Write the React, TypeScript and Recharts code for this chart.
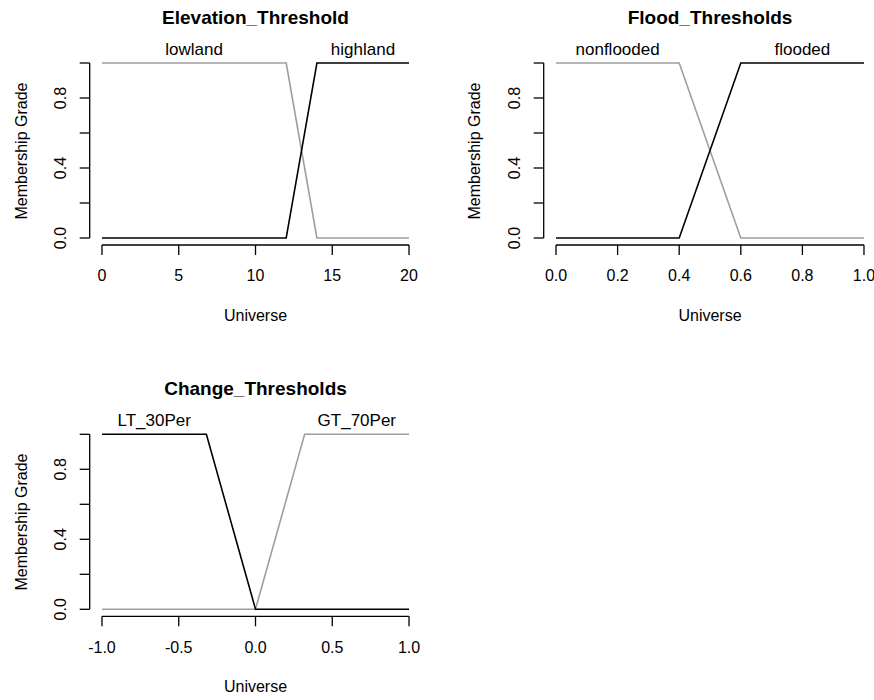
import React from 'react';
import { LineChart, Line, XAxis, YAxis, ReferenceLine, ReferenceDot } from 'recharts';

const FONT = '"Liberation Sans", Arial, Helvetica, sans-serif';
const BLACK = '#000000';
const GREY = '#9e9e9e';

// Elevation_Threshold
const elevationUniverse = [0, 12, 14, 20];
const lowlandGrade = [1, 1, 0, 0];
const highlandGrade = [0, 0, 1, 1];
const elevationTicks = [0, 5, 10, 15, 20];

// Flood_Thresholds
const floodUniverse = [0, 0.4, 0.6, 1];
const nonfloodedGrade = [1, 1, 0, 0];
const floodedGrade = [0, 0, 1, 1];
const floodTicks = [0, 0.2, 0.4, 0.6, 0.8, 1];

// Change_Thresholds
const changeUniverse = [-1, -0.32, 0, 0.32, 1];
const lt30Grade = [1, 1, 0, 0, 0];
const gt70Grade = [0, 0, 0, 1, 1];
const changeTicks = [-1, -0.5, 0, 0.5, 1];

// membership axis
const gradeTicks = [0, 0.2, 0.4, 0.6, 0.8, 1];
const gradeLabelled = [0, 0.4, 0.8];

const toRows = (xs: number[], ys: number[]) => xs.map((x, i) => ({ x, y: ys[i] }));

// R style 4% padding around the data range
const padded = (lo: number, hi: number): [number, number] => {
  const p = (hi - lo) * 0.04;
  return [lo - p, hi + p];
};

const GradeTick = (props: any) => {
  const { x, y, payload } = props;
  if (!gradeLabelled.includes(payload.value)) return <g />;
  return (
    <text
      x={x}
      y={y}
      transform={`rotate(-90, ${x}, ${y})`}
      textAnchor="middle"
      dominantBaseline="central"
      fontSize={16}
      fontFamily={FONT}
      fill="#000"
    >
      {payload.value.toFixed(1)}
    </text>
  );
};

type Series = { name: string; color: string; rows: { x: number; y: number }[]; labelX: number };

interface PanelProps {
  left: number;
  top: number;
  width: number;
  height: number;
  margin: { top: number; right: number; bottom: number; left: number };
  xTicks: number[];
  fmt: (v: number) => string;
  series: Series[];
}

const Panel: React.FC<PanelProps> = ({ left, top, width, height, margin, xTicks, fmt, series }) => {
  const xDom = padded(xTicks[0], xTicks[xTicks.length - 1]);
  const yDom = padded(0, 1);
  return (
    <div style={{ position: 'absolute', left, top }}>
      <LineChart width={width} height={height} margin={margin}>
        <XAxis
          type="number"
          dataKey="x"
          domain={xDom}
          ticks={xTicks}
          allowDataOverflow
          axisLine={false}
          tickLine={{ stroke: BLACK, strokeWidth: 1.3 }}
          tickSize={10}
          tickMargin={15}
          height={40}
          tickFormatter={fmt}
          tick={{ fontSize: 16, fill: '#000', fontFamily: FONT }}
          interval={0}
        />
        <YAxis
          type="number"
          domain={yDom}
          ticks={gradeTicks}
          allowDataOverflow
          axisLine={false}
          tickLine={{ stroke: BLACK, strokeWidth: 1.3 }}
          tickSize={10}
          tickMargin={19}
          width={60}
          tick={<GradeTick />}
          interval={0}
        />
        <ReferenceLine
          segment={[{ x: xTicks[0], y: yDom[0] }, { x: xTicks[xTicks.length - 1], y: yDom[0] }]}
          stroke={BLACK}
          strokeWidth={1.3}
          ifOverflow="visible"
        />
        <ReferenceLine
          segment={[{ x: xDom[0], y: gradeTicks[0] }, { x: xDom[0], y: gradeTicks[gradeTicks.length - 1] }]}
          stroke={BLACK}
          strokeWidth={1.3}
          ifOverflow="visible"
        />
        {series.map((s) => (
          <Line
            key={s.name}
            data={s.rows}
            dataKey="y"
            type="linear"
            stroke={s.color}
            strokeWidth={1.6}
            dot={false}
            activeDot={false}
            isAnimationActive={false}
          />
        ))}
        {series.map((s) => (
          <ReferenceDot
            key={`lab-${s.name}`}
            x={s.labelX}
            y={1}
            r={0}
            fill="none"
            stroke="none"
            label={{ value: s.name, position: 'top', offset: 8, fontSize: 17, fill: '#000', fontFamily: FONT }}
          />
        ))}
      </LineChart>
    </div>
  );
};

const Txt: React.FC<{ x: number; y: number; size: number; bold?: boolean; rotate?: boolean; children: React.ReactNode }> = ({
  x,
  y,
  size,
  bold,
  rotate,
  children,
}) => (
  <div
    style={{
      position: 'absolute',
      left: x,
      top: y,
      transform: `translate(-50%, -50%)${rotate ? ' rotate(-90deg)' : ''}`,
      fontFamily: FONT,
      fontSize: size,
      fontWeight: bold ? 'bold' : 'normal',
      whiteSpace: 'nowrap',
      lineHeight: 1,
      color: '#000',
    }}
  >
    {children}
  </div>
);

const App: React.FC = () => {
  return (
    <div style={{ position: 'fixed', left: 0, top: 0, width: 874, height: 700, overflow: 'hidden', background: '#fff' }}>
      <Panel
        left={0}
        top={0}
        width={437}
        height={350}
        margin={{ top: 56, right: 15.7, bottom: 65, left: 29.7 }}
        xTicks={elevationTicks}
        fmt={(v) => String(v)}
        series={[
          { name: 'lowland', color: GREY, rows: toRows(elevationUniverse, lowlandGrade), labelX: 6 },
          { name: 'highland', color: BLACK, rows: toRows(elevationUniverse, highlandGrade), labelX: 17 },
        ]}
      />
      <Panel
        left={437}
        top={0}
        width={450}
        height={350}
        margin={{ top: 56, right: 10.7, bottom: 65, left: 46.7 }}
        xTicks={floodTicks}
        fmt={(v) => v.toFixed(1)}
        series={[
          { name: 'nonflooded', color: GREY, rows: toRows(floodUniverse, nonfloodedGrade), labelX: 0.2 },
          { name: 'flooded', color: BLACK, rows: toRows(floodUniverse, floodedGrade), labelX: 0.8 },
        ]}
      />
      <Panel
        left={0}
        top={350}
        width={437}
        height={350}
        margin={{ top: 77.3, right: 15.7, bottom: 43.7, left: 29.7 }}
        xTicks={changeTicks}
        fmt={(v) => v.toFixed(1)}
        series={[
          { name: 'GT_70Per', color: GREY, rows: toRows(changeUniverse, gt70Grade), labelX: 0.66 },
          { name: 'LT_30Per', color: BLACK, rows: toRows(changeUniverse, lt30Grade), labelX: -0.66 },
        ]}
      />

      <Txt x={255.5} y={17} size={19} bold>Elevation_Threshold</Txt>
      <Txt x={22} y={150.5} size={16} rotate>Membership Grade</Txt>
      <Txt x={255.5} y={316} size={16}>Universe</Txt>

      <Txt x={710} y={17} size={19} bold>Flood_Thresholds</Txt>
      <Txt x={475} y={150.5} size={16} rotate>Membership Grade</Txt>
      <Txt x={710} y={316} size={16}>Universe</Txt>

      <Txt x={255.5} y={388} size={19} bold>Change_Thresholds</Txt>
      <Txt x={22} y={521.5} size={16} rotate>Membership Grade</Txt>
      <Txt x={255.5} y={687} size={16}>Universe</Txt>
    </div>
  );
};

export default App;
